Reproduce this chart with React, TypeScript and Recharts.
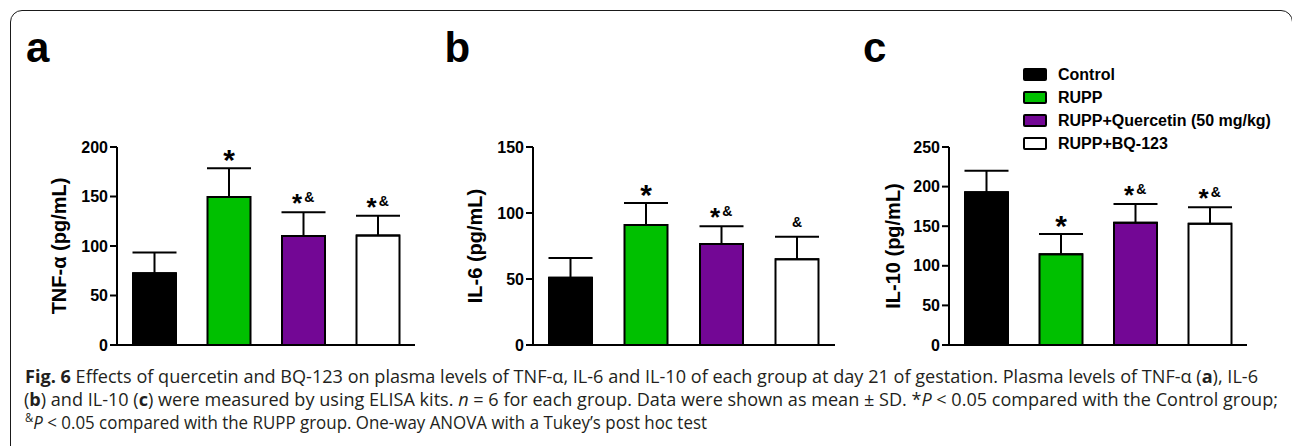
import React from 'react';
import { BarChart, Bar, XAxis, YAxis, Cell, ErrorBar, LabelList, Legend } from 'recharts';

const FONT = '"Liberation Sans", Arial, Helvetica, sans-serif';

const groups = ['Control', 'RUPP', 'RUPP+Quercetin (50 mg/kg)', 'RUPP+BQ-123'];
const groupColors = ['#000000', '#00c000', '#730795', '#ffffff'];

// a: TNF-α
const tnfMean = [72.5, 149.5, 110, 110.5];
const tnfSd = [21, 29, 24, 20];
const tnfMarks = ['', '*', '*&', '*&'];
const tnfTicks = [0, 50, 100, 150, 200];

// b: IL-6
const il6Mean = [51, 91, 76.5, 65];
const il6Sd = [15, 16.5, 13.5, 17];
const il6Marks = ['', '*', '*&', '&'];
const il6Ticks = [0, 50, 100, 150];

// c: IL-10
const il10Mean = [193, 114.5, 154.5, 153];
const il10Sd = [27, 25.5, 23.5, 21];
const il10Marks = ['', '*', '*&', '*&'];
const il10Ticks = [0, 50, 100, 150, 200, 250];

const Y_AXIS_W = 60;

function makeMark(mean: number[], sd: number[]) {
  return (p: any) => {
    const vb = p.viewBox || p;
    const i = p.index;
    const mark = p.value;
    if (!mark || i == null) return null;
    const x = Number(vb.x);
    const y = Number(vb.y);
    const w = Number(vb.width);
    const h = Math.abs(Number(vb.height));
    const top = Math.min(y, y + Number(vb.height));
    const errTop = top - (sd[i] * h) / mean[i];
    const cx = x + w / 2;
    const cy = errTop - 15;
    const common = { fontFamily: FONT, fontWeight: 'bold' as const, fill: '#000', textAnchor: 'middle' as const };
    if (mark === '*') {
      return <text x={cx} y={cy + 17} fontSize={30} {...common}>*</text>;
    }
    if (mark === '&') {
      return <text x={cx} y={cy + 5} fontSize={14} {...common}>&amp;</text>;
    }
    return (
      <g>
        <text x={cx - 6.5} y={cy + 14.8} fontSize={26} {...common}>*</text>
        <text x={cx + 5.7} y={cy + 5} fontSize={14} {...common}>&amp;</text>
      </g>
    );
  };
}

const renderLegend = () => (
  <div style={{ fontFamily: FONT, fontWeight: 'bold', fontSize: 16, color: '#000' }}>
    {groups.map((g, i) => (
      <div key={g} style={{ display: 'flex', alignItems: 'center', height: 23, whiteSpace: 'nowrap' }}>
        <span
          style={{
            display: 'inline-block',
            width: 24,
            height: 13,
            boxSizing: 'border-box',
            border: '2px solid #000',
            borderRadius: 2,
            background: groupColors[i],
            marginRight: 11,
          }}
        />
        <span>{g}</span>
      </div>
    ))}
  </div>
);

interface PanelProps {
  left: number;
  width: number;
  axisX: number;
  rightX: number;
  mean: number[];
  sd: number[];
  marks: string[];
  ticks: number[];
  yLabel: string;
  labelDist: number;
  legend?: boolean;
}

function Panel({ left, width, axisX, rightX, mean, sd, marks, ticks, yLabel, labelDist, legend }: PanelProps) {
  const data = groups.map((g, i) => ({ name: g, value: mean[i], err: [0, sd[i]], mark: marks[i] }));
  const marginLeft = axisX - left - Y_AXIS_W;
  const marginRight = left + width - rightX;
  return (
    <div style={{ position: 'absolute', left, top: 0 }}>
      <BarChart
        width={width}
        height={360}
        data={data}
        margin={{ top: 147, right: marginRight, bottom: 0, left: marginLeft }}
        barSize={43}
      >
        <XAxis
          dataKey="name"
          height={15}
          tick={false}
          tickSize={7}
          axisLine={{ stroke: '#000', strokeWidth: 2 }}
          tickLine={{ stroke: '#000', strokeWidth: 2 }}
        />
        <YAxis
          width={Y_AXIS_W}
          domain={[0, ticks[ticks.length - 1]]}
          ticks={ticks}
          interval={0}
          tickSize={7}
          tickMargin={2}
          axisLine={{ stroke: '#000', strokeWidth: 2 }}
          tickLine={{ stroke: '#000', strokeWidth: 2 }}
          tick={{ fill: '#000', fontSize: 16, fontWeight: 'bold', fontFamily: FONT }}
          label={{
            value: yLabel,
            angle: -90,
            position: 'insideLeft',
            offset: Y_AXIS_W - labelDist,
            style: { textAnchor: 'middle', fontFamily: FONT, fontWeight: 'bold', fontSize: 20, fill: '#000' },
          }}
        />
        {legend && (
          <Legend
            layout="vertical"
            align="center"
            verticalAlign="middle"
            content={renderLegend}
            wrapperStyle={{ left: 1023 - left, top: 63, width: 'auto' }}
          />
        )}
        <Bar dataKey="value" isAnimationActive={false} stroke="#000" strokeWidth={2}>
          {data.map((d, i) => (
            <Cell key={d.name} fill={groupColors[i]} />
          ))}
          <ErrorBar dataKey="err" width={22} stroke="#000" strokeWidth={2} direction="y" isAnimationActive={false} />
          <LabelList dataKey="mark" content={makeMark(mean, sd)} />
        </Bar>
      </BarChart>
    </div>
  );
}

export default function App() {
  const cap = { fontFamily: '"Open Sans", "Noto Sans", sans-serif', fontSize: 18, fill: '#231f20' };
  return (
    <div style={{ position: 'absolute', left: 0, top: 0, width: 1292, height: 446, overflow: 'hidden', background: '#fff' }}>
      <div
        style={{
          position: 'absolute',
          left: 10,
          top: 10,
          width: 1283,
          height: 520,
          boxSizing: 'border-box',
          border: '1.5px solid #1a1a1a',
          borderRadius: 12,
        }}
      />
      <svg width={1292} height={446} style={{ position: 'absolute', left: 0, top: 0, pointerEvents: 'none' }}>
        <g fontFamily={FONT} fontWeight="bold" fontSize={42} fill="#000">
          <text x={26} y={62}>a</text>
          <text x={444.5} y={62}>b</text>
          <text x={863} y={62}>c</text>
        </g>
        <text x={25} y={383} textLength={1233} lengthAdjust="spacingAndGlyphs" {...cap}>
          <tspan fontWeight="bold">Fig. 6</tspan> Effects of quercetin and BQ-123 on plasma levels of TNF-α, IL-6 and IL-10 of each group at day 21 of gestation. Plasma levels of TNF-α (<tspan fontWeight="bold">a</tspan>), IL-6
        </text>
        <text x={24} y={406} textLength={1254} lengthAdjust="spacingAndGlyphs" {...cap}>
          (<tspan fontWeight="bold">b</tspan>) and IL-10 (<tspan fontWeight="bold">c</tspan>) were measured by using ELISA kits. <tspan fontStyle="italic">n</tspan> = 6 for each group. Data were shown as mean ± SD. *<tspan fontStyle="italic">P</tspan> &lt; 0.05 compared with the Control group;
        </text>
        <text x={25} y={429} textLength={682} lengthAdjust="spacingAndGlyphs" {...cap}>
          <tspan fontSize={12} dy={-7}>&amp;</tspan><tspan fontStyle="italic" dy={7}>P</tspan> &lt; 0.05 compared with the RUPP group. One-way ANOVA with a Tukey’s post hoc test
        </text>
      </svg>
      <Panel left={0} width={430} axisX={117} rightX={415} mean={tnfMean} sd={tnfSd} marks={tnfMarks} ticks={tnfTicks} yLabel="TNF-α (pg/mL)" labelDist={58} />
      <Panel left={420} width={430} axisX={533} rightX={835} mean={il6Mean} sd={il6Sd} marks={il6Marks} ticks={il6Ticks} yLabel="IL-6 (pg/mL)" labelDist={58.5} />
      <Panel left={840} width={440} axisX={949} rightX={1247} mean={il10Mean} sd={il10Sd} marks={il10Marks} ticks={il10Ticks} yLabel="IL-10 (pg/mL)" labelDist={56.5} legend />
    </div>
  );
}
